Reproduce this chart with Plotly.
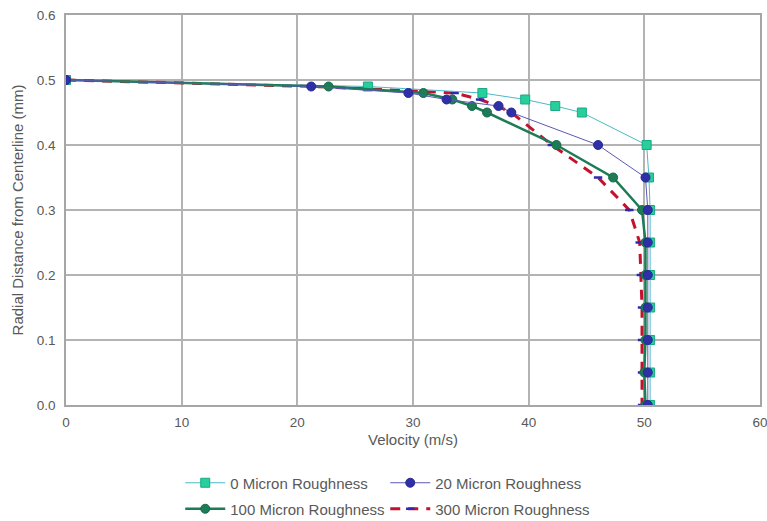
import plotly.graph_objects as go

radial = [0.5, 0.49, 0.48, 0.47, 0.46, 0.45, 0.4, 0.35, 0.3, 0.25, 0.2, 0.15, 0.1, 0.05, 0.0]

vel_0 = [0, 26.1, 36.0, 39.7, 42.3, 44.6, 50.2, 50.4, 50.5, 50.5, 50.5, 50.5, 50.5, 50.5, 50.5]
vel_20 = [0, 21.2, 29.6, 32.9, 37.4, 38.5, 46.0, 50.1, 50.3, 50.3, 50.3, 50.3, 50.3, 50.3, 50.3]
vel_100 = [0, 22.7, 30.9, 33.4, 35.1, 36.4, 42.4, 47.3, 49.8, 50.1, 50.1, 50.1, 50.1, 50.0, 50.1]
vel_300 = [0, 21.5, 33.6, 35.8, 37.3, 38.5, 42.0, 46.0, 48.7, 49.6, 49.7, 49.8, 49.8, 49.8, 49.8]

names = ["0 Micron Roughness", "20 Micron Roughness", "100 Micron Roughness", "300 Micron Roughness"]

x_ticks = [0, 10, 20, 30, 40, 50, 60]
y_ticks = [0.0, 0.1, 0.2, 0.3, 0.4, 0.5, 0.6]

fig = go.Figure()

# drawn first so the other series sit on top of it
fig.add_trace(go.Scatter(
    x=vel_300, y=radial, name=names[3], mode="lines+markers", legend="legend2", legendrank=4,
    line=dict(color="#c4122e", width=3, dash="10px,8px"),
    marker=dict(symbol="line-ew", size=6, color="#2a2ab0", line=dict(color="#2a2ab0", width=2.5)),
))
fig.add_trace(go.Scatter(
    x=vel_0, y=radial, name=names[0], mode="lines+markers", legend="legend", legendrank=1,
    line=dict(color="#4cb9c6", width=1),
    marker=dict(symbol="square", size=9, color="#27cf9c", line=dict(color="#1aa884", width=1)),
))
fig.add_trace(go.Scatter(
    x=vel_100, y=radial, name=names[2], mode="lines+markers", legend="legend2", legendrank=3,
    line=dict(color="#1d7b56", width=2.5),
    marker=dict(symbol="circle", size=9, color="#1d7b56", line=dict(color="#186a4a", width=1)),
))
fig.add_trace(go.Scatter(
    x=vel_20, y=radial, name=names[1], mode="lines+markers", legend="legend", legendrank=2,
    line=dict(color="#5a58b4", width=1),
    marker=dict(symbol="circle", size=9, color="#2f2fa8", line=dict(color="#2a2a95", width=1)),
))

font = "Liberation Sans, Arial, sans-serif"
leg_common = dict(
    orientation="h", xref="container", yref="container", xanchor="left", yanchor="middle",
    font=dict(size=15, color="#595959"), entrywidth=150, itemwidth=40,
    bgcolor="rgba(0,0,0,0)", traceorder="normal",
)
fig.update_layout(
    width=767, height=521,
    margin=dict(l=66, r=7, t=15, b=116),
    paper_bgcolor="white", plot_bgcolor="white",
    font=dict(family=font, size=13, color="#595959"),
    xaxis=dict(
        range=[0, 60], tickvals=x_ticks, ticktext=[str(v) for v in x_ticks],
        showgrid=True, gridcolor="#b3b3b3", gridwidth=1.5, automargin=False,
        zeroline=False, showline=True, linecolor="#a6a6a6", linewidth=1.5, mirror=True,
        ticks="", ticklabelstandoff=4, ticklabeloverflow="allow",
        title=dict(text="Velocity (m/s)", font=dict(size=15, color="#595959"), standoff=6),
        tickfont=dict(size=13.5, color="#595959"),
    ),
    yaxis=dict(
        range=[0, 0.6], tickvals=y_ticks, ticktext=["%.1f" % v for v in y_ticks],
        showgrid=True, gridcolor="#b3b3b3", gridwidth=1.5, automargin=False,
        zeroline=False, showline=True, linecolor="#a6a6a6", linewidth=1.5, mirror=True,
        ticks="", ticklabelstandoff=6, ticklabeloverflow="allow",
        title=dict(text="Radial Distance from Centerline (mm)", font=dict(size=15, color="#595959"), standoff=10),
        tickfont=dict(size=13.5, color="#595959"),
    ),
    legend=dict(x=0.235, y=1 - 483 / 521, **leg_common),
    legend2=dict(x=0.235, y=1 - 509 / 521, **leg_common),
)

fig.write_html("out.html")
